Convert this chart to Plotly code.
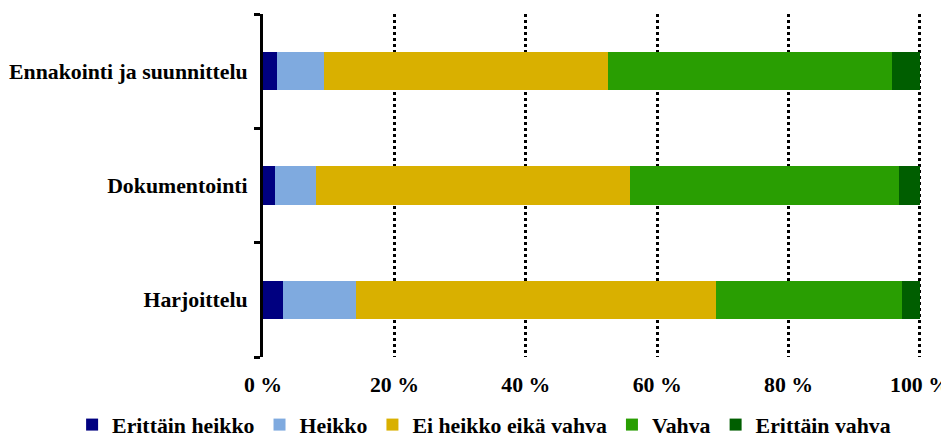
import plotly.graph_objects as go

categories = ["Harjoittelu", "Dokumentointi", "Ennakointi ja suunnittelu"]
series_names = ["Erittäin heikko", "Heikko", "Ei heikko eikä vahva", "Vahva", "Erittäin vahva"]
erittain_heikko = [3.0, 1.8, 2.2]
heikko = [11.2, 6.2, 7.1]
ei_heikko_eika_vahva = [54.7, 47.8, 43.2]
vahva = [28.4, 41.0, 43.3]
erittain_vahva = [2.7, 3.2, 4.2]
colors = ["#000080", "#7FAADF", "#D9B000", "#299E02", "#005E00"]
tick_vals = [0, 20, 40, 60, 80, 100]
tick_text = ["0 %", "20 %", "40 %", "60 %", "80 %", "100 %"]

font_family = "Liberation Serif, Times New Roman, serif"
fs = 21.8
series = [erittain_heikko, heikko, ei_heikko_eika_vahva, vahva, erittain_vahva]

fig = go.Figure()
for name, vals, col in zip(series_names, series, colors):
    fig.add_trace(go.Bar(
        y=categories, x=vals, name=name, orientation="h",
        marker=dict(color=col, line=dict(width=0)),
    ))

# page body has an 8px default margin, so the figure is 941x430
fig.update_layout(
    barmode="stack",
    bargap=0.667,
    width=941, height=430,
    margin=dict(l=255, r=25, t=6, b=81, autoexpand=False),
    paper_bgcolor="white", plot_bgcolor="white",
    font=dict(family=font_family, size=fs, color="black"),
    showlegend=True,
    legend=dict(
        orientation="h",
        x=-0.2888, xanchor="left", y=-0.198, yanchor="middle",
        font=dict(family=font_family, size=fs, color="black", weight="bold"),
        traceorder="normal", itemwidth=30,
    ),
    xaxis=dict(
        range=[0, 100.61], tickvals=tick_vals, ticktext=tick_text,
        showgrid=True, gridcolor="black", gridwidth=3, griddash="dot",
        zeroline=False, showline=False, ticks="", ticklabelstandoff=12,
        automargin=False, ticklabeloverflow="allow",
        tickfont=dict(family=font_family, size=fs, color="black", weight="bold"),
    ),
    yaxis=dict(
        showline=True, linecolor="black", linewidth=3,
        ticks="outside", tickson="boundaries", ticklen=6, tickwidth=3, tickcolor="black",
        ticklabelstandoff=8, automargin=False,
        tickfont=dict(family=font_family, size=fs, color="black", weight="bold"),
        showgrid=False,
    ),
)

fig.write_html("out.html")
